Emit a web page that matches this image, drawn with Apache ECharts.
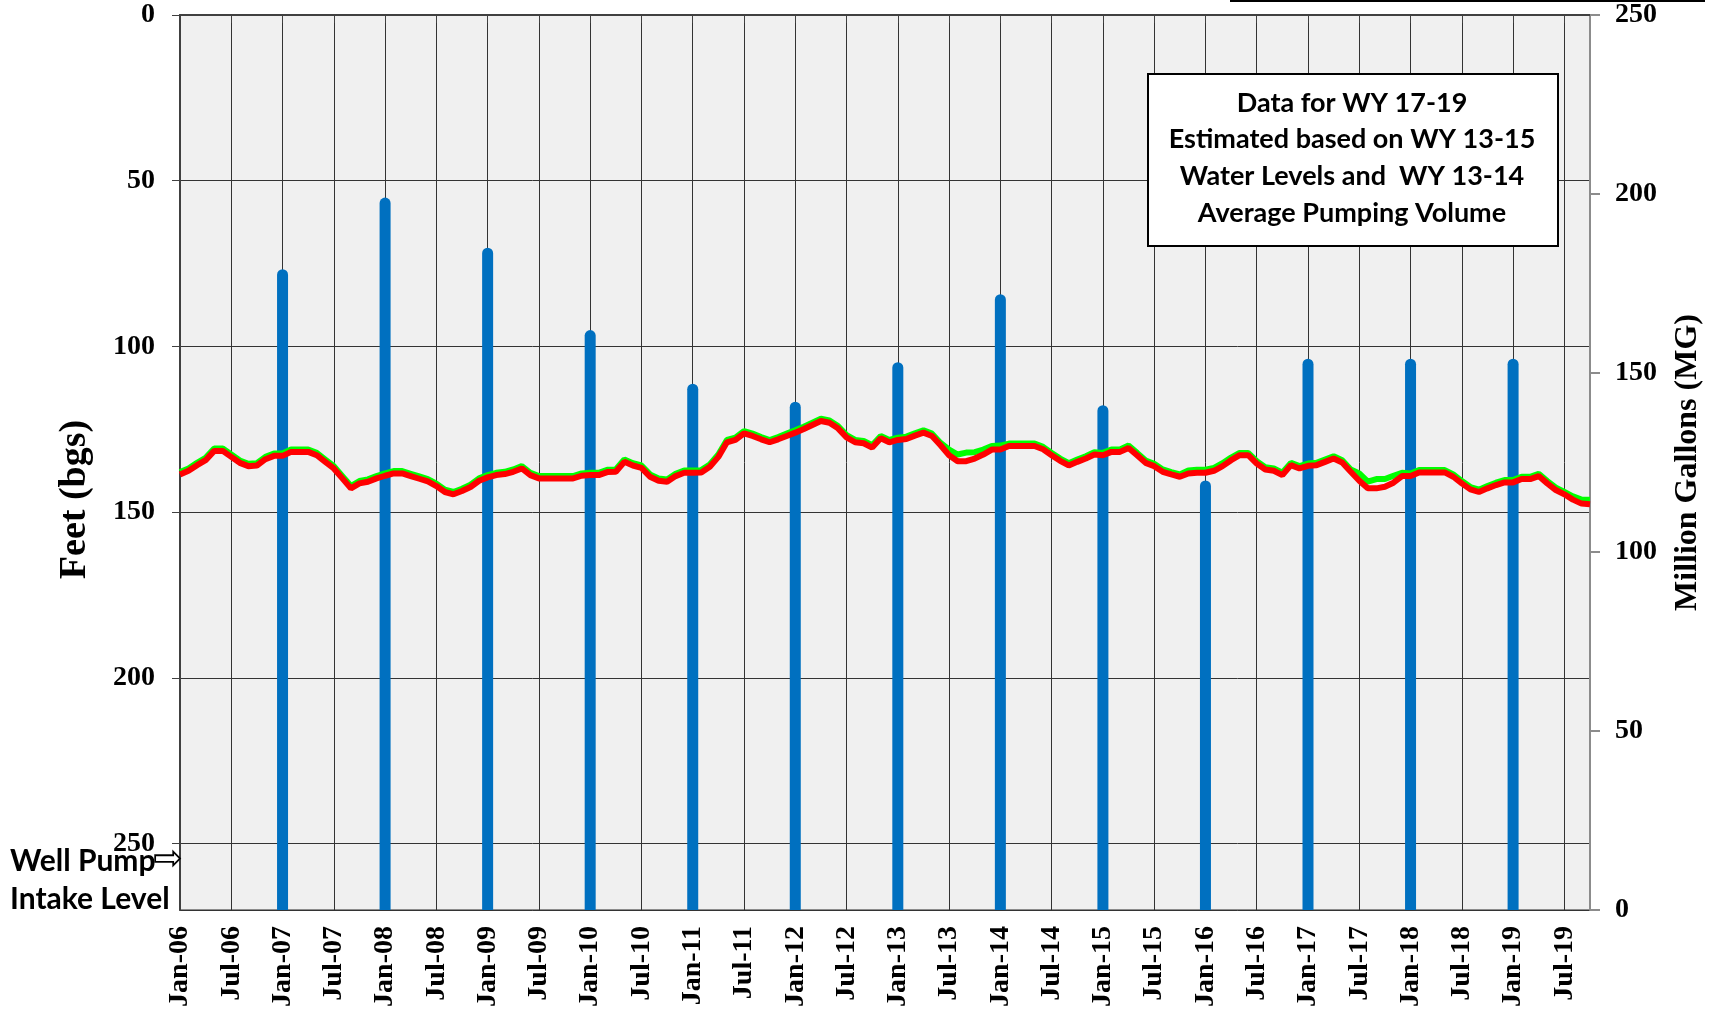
<!DOCTYPE html>
<html>
<head>
<meta charset="utf-8">
<title>Well Water Level and Pumping Volume</title>
<script src="https://cdn.jsdelivr.net/npm/echarts@6/dist/echarts.min.js"></script>
<style>
  html, body { margin: 0; padding: 0; background: #fff; }
  #chart { width: 1711px; height: 1021px; }
</style>
</head>
<body>
<div id="chart"></div>
<script>
// month labels Jan-06 .. Oct-19
const monthNames = ['Jan', 'Feb', 'Mar', 'Apr', 'May', 'Jun', 'Jul', 'Aug', 'Sep', 'Oct', 'Nov', 'Dec'];
const years = ['06', '07', '08', '09', '10', '11', '12', '13', '14', '15', '16', '17', '18', '19'];
const lastMonth = 'Oct-19';

// annual pumping volume (Million Gallons), plotted at January of each year
const pumpMonths = ['Jan-07', 'Jan-08', 'Jan-09', 'Jan-10', 'Jan-11', 'Jan-12', 'Jan-13',
  'Jan-14', 'Jan-15', 'Jan-16', 'Jan-17', 'Jan-18', 'Jan-19'];
const pumpVolume = [179, 199, 185, 162, 147, 142, 153, 172, 141, 120, 154, 154, 154];

// depth to water (feet bgs), monthly from Jan-06
const waterLevel = [
  138.6, 137.5, 135.8, 134.3, 131.5, 131.5, 133.3, 135.1, 136.1, 135.9, 134.0, 133.0,
  133.0, 131.8, 131.8, 131.8, 132.8, 134.8, 136.8, 139.8, 142.8, 141.3, 140.8, 139.8,
  139.0, 138.3, 138.3, 139.1, 139.9, 140.7, 142.1, 143.9, 144.6, 143.6, 142.4, 140.5,
  139.5, 138.8, 138.5, 137.8, 136.8, 138.8, 139.8, 139.8, 139.8, 139.8, 139.8, 139.0,
  138.8, 138.8, 137.9, 137.8, 134.8, 135.9, 136.6, 139.3, 140.5, 140.8, 139.1, 138.1,
  138.1, 138.0, 136.3, 133.3, 128.9, 128.2, 126.2, 127.0, 128.0, 128.9, 128.0, 127.0,
  126.0, 124.9, 123.7, 122.5, 123.0, 124.7, 127.4, 128.9, 129.2, 130.5, 127.7, 128.9,
  128.2, 127.9, 126.9, 126.0, 127.0, 129.8, 132.8, 134.6, 134.6, 133.8, 132.6, 131.1,
  131.1, 130.0, 130.0, 130.0, 130.0, 131.0, 132.8, 134.5, 135.9, 134.8, 133.8, 132.6,
  132.8, 131.8, 131.8, 130.6, 132.8, 135.1, 136.1, 137.8, 138.6, 139.3, 138.3, 138.1,
  138.1, 137.5, 136.1, 134.3, 132.8, 132.8, 135.3, 137.1, 137.5, 138.8, 135.8, 136.8,
  136.0, 135.8, 134.8, 133.8, 135.0, 137.8, 140.5, 142.8, 142.8, 142.3, 141.1, 139.1,
  139.1, 138.0, 138.0, 138.0, 138.0, 139.3, 141.3, 143.1, 143.9, 142.8, 141.8, 141.0,
  141.0, 140.0, 140.0, 139.1, 141.3, 143.3, 144.6, 146.2, 147.4, 147.6
];

const waterLevelAlt = [
  137.9, 136.8, 135.1, 133.6, 130.8, 130.8, 132.6, 134.4, 135.4, 135.2, 133.3, 132.3,
  132.3, 131.1, 131.1, 131.1, 132.1, 134.1, 136.1, 139.1, 142.1, 140.6, 140.1, 139.1,
  138.3, 137.6, 137.6, 138.4, 139.2, 140.0, 141.4, 143.2, 143.9, 142.9, 141.7, 139.8,
  138.8, 138.1, 137.8, 137.1, 136.1, 138.1, 139.1, 139.1, 139.1, 139.1, 139.1, 138.3,
  138.1, 138.1, 137.2, 137.1, 134.1, 135.2, 135.9, 138.6, 139.8, 140.1, 138.4, 137.4,
  137.4, 137.3, 135.6, 132.6, 128.2, 127.5, 125.5, 126.3, 127.3, 128.2, 127.3, 126.3,
  125.3, 124.2, 123.0, 121.8, 122.3, 124.0, 126.7, 128.2, 128.5, 129.8, 127.0, 128.2,
  127.5, 127.2, 126.2, 125.3, 126.3, 129.1, 131.1, 132.6, 132.0, 131.9, 131.1, 130.0,
  129.9, 129.3, 129.3, 129.3, 129.3, 130.3, 132.1, 133.8, 135.2, 134.1, 133.1, 131.9,
  132.1, 131.1, 131.1, 129.9, 132.1, 134.4, 135.4, 137.1, 137.9, 138.6, 137.4, 137.2,
  137.2, 136.6, 135.2, 133.5, 132.1, 132.1, 134.6, 136.4, 136.8, 138.1, 135.1, 136.1,
  135.3, 135.1, 134.1, 133.1, 134.3, 137.1, 138.3, 140.8, 140.0, 140.0, 139.0, 138.1,
  138.3, 137.3, 137.3, 137.3, 137.3, 138.6, 140.6, 142.4, 143.2, 142.1, 141.1, 140.3,
  140.3, 139.3, 139.3, 138.4, 140.6, 142.6, 143.9, 145.2, 146.2, 146.2
];

const noteLines = [
  'Data for WY 17-19',
  'Estimated based on WY 13-15',
  'Water Levels and  WY 13-14',
  'Average Pumping Volume'
];

// build category list
const months = [];
for (const y of years) {
  for (const m of monthNames) {
    const label = m + '-' + y;
    months.push(label);
    if (label === lastMonth) break;
  }
}

const pumpData = months.map((m) => {
  const k = pumpMonths.indexOf(m);
  return k >= 0 ? pumpVolume[k] : null;
});

const serif = '"Liberation Serif", "Times New Roman", serif';
const sans = 'Lato, "Open Sans", sans-serif';

const chart = echarts.init(document.getElementById('chart'));

const option = {
  animation: false,
  backgroundColor: '#ffffff',
  grid: {
    left: 180,
    right: 121,
    top: 15,
    bottom: 111,
    containLabel: false,
    outerBoundsMode: 'none',
    show: true,
    backgroundColor: '#f0f0f0',
    borderColor: '#8c8c8c',
    borderWidth: 2,
  },
  xAxis: {
    type: 'category',
    data: months,
    boundaryGap: false,
    axisLine: { lineStyle: { color: '#404040', width: 2 } },
    axisTick: { show: true, interval: 5, length: 8, lineStyle: { color: '#404040', width: 1 } },
    axisLabel: {
      interval: 5,
      rotate: 90,
      margin: 16,
      color: '#000',
      fontFamily: serif,
      fontWeight: 'bold',
      fontSize: 28,
    },
    splitLine: { show: true, interval: 5, lineStyle: { color: '#333', width: 1 } },
  },
  yAxis: [
    {
      type: 'value',
      inverse: true,
      min: 0,
      max: 270,
      interval: 50,
      name: 'Feet (bgs)',
      nameLocation: 'middle',
      nameGap: 86,
      nameRotate: 90,
      nameTextStyle: {
        color: '#000',
        fontFamily: serif,
        fontWeight: 'bold',
        fontSize: 38,
        padding: [0, 74, 0, 0],
      },
      axisLine: { show: true, lineStyle: { color: '#404040', width: 2 } },
      axisTick: { show: true, length: 8, lineStyle: { color: '#404040' } },
      axisLabel: {
        showMaxLabel: false,
        margin: 25,
        color: '#000',
        fontFamily: serif,
        fontWeight: 'bold',
        fontSize: 28,
      },
      splitLine: { show: true, lineStyle: { color: '#333', width: 1 } },
    },
    {
      type: 'value',
      min: 0,
      max: 250,
      interval: 50,
      position: 'right',
      name: 'Million Gallons (MG)',
      nameLocation: 'middle',
      nameGap: 82,
      nameRotate: 90,
      nameTextStyle: {
        color: '#000',
        fontFamily: serif,
        fontWeight: 'bold',
        fontSize: 32,
      },
      axisLine: { show: true, lineStyle: { color: '#8c8c8c', width: 2 } },
      axisTick: { show: true, length: 10, lineStyle: { color: '#8c8c8c', width: 2 } },
      axisLabel: {
        margin: 25,
        color: '#000',
        fontFamily: serif,
        fontWeight: 'bold',
        fontSize: 28,
      },
      splitLine: { show: false },
    },
  ],
  series: [
    {
      name: 'Pumping Volume',
      type: 'bar',
      yAxisIndex: 1,
      data: pumpData,
      barWidth: 11,
      itemStyle: { color: '#0070c0', borderRadius: [5.5, 5.5, 0, 0] },
    },
    {
      name: 'Water Level (alt)',
      type: 'line',
      yAxisIndex: 0,
      data: waterLevelAlt,
      showSymbol: false,
      lineStyle: { color: '#00ff00', width: 6 },
    },
    {
      name: 'Water Level',
      type: 'line',
      yAxisIndex: 0,
      data: waterLevel,
      showSymbol: false,
      lineStyle: { color: '#ff0000', width: 6 },
    },
  ],
  graphic: [
    {
      type: 'line',
      shape: { x1: 1230, y1: 1, x2: 1705, y2: 1 },
      style: { stroke: '#000', lineWidth: 2 },
    },
    {
      type: 'rect',
      shape: { x: 1148, y: 74, width: 410, height: 172 },
      style: { fill: '#fff', stroke: '#000', lineWidth: 2 },
      z: 100,
    },
    {
      type: 'text',
      x: 1352,
      y: 158,
      z: 101,
      style: {
        text: noteLines.join('\n'),
        align: 'center',
        verticalAlign: 'middle',
        lineHeight: 36.7,
        fill: '#000',
        font: 'bold 27px ' + sans,
      },
    },
    {
      type: 'text',
      x: 10,
      y: 880,
      z: 101,
      style: {
        text: 'Well Pump\nIntake Level',
        align: 'left',
        verticalAlign: 'middle',
        lineHeight: 38,
        fill: '#000',
        font: 'bold 30px ' + sans,
      },
    },
    {
      type: 'text',
      x: 168,
      y: 861,
      z: 101,
      style: {
        text: '\u21e8',
        align: 'center',
        verticalAlign: 'middle',
        fill: '#000',
        font: '36px "DejaVu Sans"',
      },
    },
  ],
};

chart.setOption(option);
window.addEventListener('resize', () => chart.resize());
</script>
</body>
</html>
